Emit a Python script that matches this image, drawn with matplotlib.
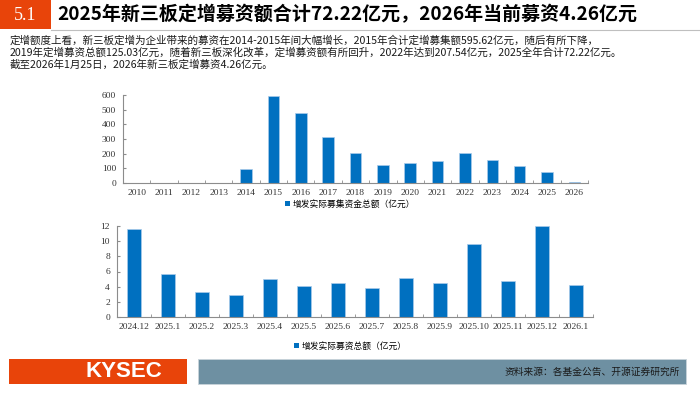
import matplotlib
matplotlib.use("Agg")
import matplotlib.pyplot as plt
from matplotlib.patches import Rectangle, Patch
import numpy as np

plt.rcParams['font.family'] = ['Noto Sans CJK SC', 'DejaVu Sans']

# annual data (亿元)
years = ['2010', '2011', '2012', '2013', '2014', '2015', '2016', '2017', '2018',
         '2019', '2020', '2021', '2022', '2023', '2024', '2025', '2026']
annual = [0.5, 2, 2, 3, 97, 595.62, 478, 313, 207, 125.03, 135, 150, 207.54,
          157, 115, 72.22, 4.26]

# monthly data (亿元)
months = ['2024.12', '2025.1', '2025.2', '2025.3', '2025.4', '2025.5', '2025.6',
          '2025.7', '2025.8', '2025.9', '2025.10', '2025.11', '2025.12', '2026.1']
monthly = [11.55, 5.62, 3.27, 2.92, 5.0, 4.12, 4.47, 3.85, 5.18, 4.47, 9.65,
           4.73, 12.03, 4.26]

title = '2025年新三板定增募资额合计72.22亿元，2026年当前募资4.26亿元'
body = ['定增额度上看，新三板定增为企业带来的募资在2014-2015年间大幅增长，2015年合计定增募集额595.62亿元，随后有所下降，',
        '2019年定增募资总额125.03亿元，随着新三板深化改革，定增募资额有所回升，2022年达到207.54亿元，2025全年合计72.22亿元。',
        '截至2026年1月25日，2026年新三板定增募资4.26亿元。']
legend1 = '增发实际募集资金总额（亿元）'
legend2 = '增发实际募资总额（亿元）'
source = '资料来源：各基金公告、开源证券研究所'

W, H = 700, 394
BLUE = '#0070C0'
ORANGE = '#E8440A'
SLATE = '#6E90A2'
AXC = '#8C8C8C'
SERIF = ['Liberation Serif', 'DejaVu Serif']

fig = plt.figure(figsize=(7, 3.94), dpi=100)


def px_axes(l, t, r, b):
    return fig.add_axes([l / W, 1 - b / H, (r - l) / W, (b - t) / H])


def style(ax, labels, ymax, step):
    n = len(labels)
    ax.set_xlim(-0.5, n - 0.5)
    ax.set_ylim(0, ymax)
    ax.set_xticks(np.arange(n))
    ax.set_xticklabels(labels, fontsize=6.8, family=SERIF, color='#333333')
    ax.set_xticks(np.arange(n) + 0.5, minor=True)
    ax.tick_params(axis='x', which='major', length=0, pad=4)
    ax.tick_params(axis='x', which='minor', length=2.5, direction='in', color=AXC)
    ax.set_yticks(np.arange(0, ymax + step / 2, step))
    ax.tick_params(axis='y', length=2.5, direction='in', color=AXC,
                   labelsize=6.8, labelcolor='#333333', pad=5)
    for lab in ax.get_yticklabels():
        lab.set_family(SERIF)
    for s in ('top', 'right'):
        ax.spines[s].set_visible(False)
    for s in ('left', 'bottom'):
        ax.spines[s].set_color(AXC)
        ax.spines[s].set_linewidth(0.8)


# header
fig.patches.append(Rectangle((0, 1 - 29 / H), 51 / W, 29 / H, transform=fig.transFigure,
                             facecolor=ORANGE, edgecolor='none'))
fig.text(25 / W, 1 - 15 / H, '5.1', color='white', fontsize=13, ha='center', va='center',
         family=SERIF)
fig.text(57 / W, 1 - 15 / H, title, color='black', fontsize=13.7, ha='left', va='center',
         fontweight='bold')
fig.add_artist(plt.Line2D([51 / W, 1], [1 - 29.5 / H, 1 - 29.5 / H], transform=fig.transFigure,
                          color='#BFBFBF', lw=0.8))
for i, line in enumerate(body):
    fig.text(10 / W, 1 - (41 + 12 * i) / H, line, fontsize=7.6, ha='left', va='center',
             color='#1A1A1A')

# annual chart
ax1 = px_axes(123, 95, 588, 183)
ax1.bar(np.arange(len(years)), annual, width=0.42, color=BLUE, edgecolor='#A9CBEA', linewidth=0.5)
style(ax1, years, 600, 100)
fig.legend(handles=[Patch(facecolor=BLUE)], labels=[legend1], loc='center',
           bbox_to_anchor=(350 / W, 1 - 204 / H), frameon=False, fontsize=6.3,
           handlelength=0.6, handleheight=0.6, handletextpad=0.3)

# monthly chart
ax2 = px_axes(117, 226, 593, 317)
ax2.bar(np.arange(len(months)), monthly, width=0.41, color=BLUE, edgecolor='#A9CBEA', linewidth=0.5)
style(ax2, months, 12, 2)
fig.legend(handles=[Patch(facecolor=BLUE)], labels=[legend2], loc='center',
           bbox_to_anchor=(350 / W, 1 - 346 / H), frameon=False, fontsize=6.3,
           handlelength=0.6, handleheight=0.6, handletextpad=0.3)

# footer
fig.patches.append(Rectangle((9 / W, 1 - 384 / H), 178 / W, 25 / H, transform=fig.transFigure,
                             facecolor=ORANGE, edgecolor='none'))
fig.text(124 / W, 1 - 371.5 / H, 'KYSEC', color='white', fontsize=16, fontweight='bold',
         ha='center', va='center', family=['Liberation Sans', 'DejaVu Sans'])
fig.patches.append(Rectangle((198 / W, 1 - 384 / H), 488 / W, 25 / H, transform=fig.transFigure,
                             facecolor=SLATE, edgecolor='#C8D3DA', linewidth=0.6))
fig.text(680 / W, 1 - 372 / H, source, color='#1A1A1A', fontsize=7, ha='right', va='center')

fig.savefig('out.png', dpi=100)
